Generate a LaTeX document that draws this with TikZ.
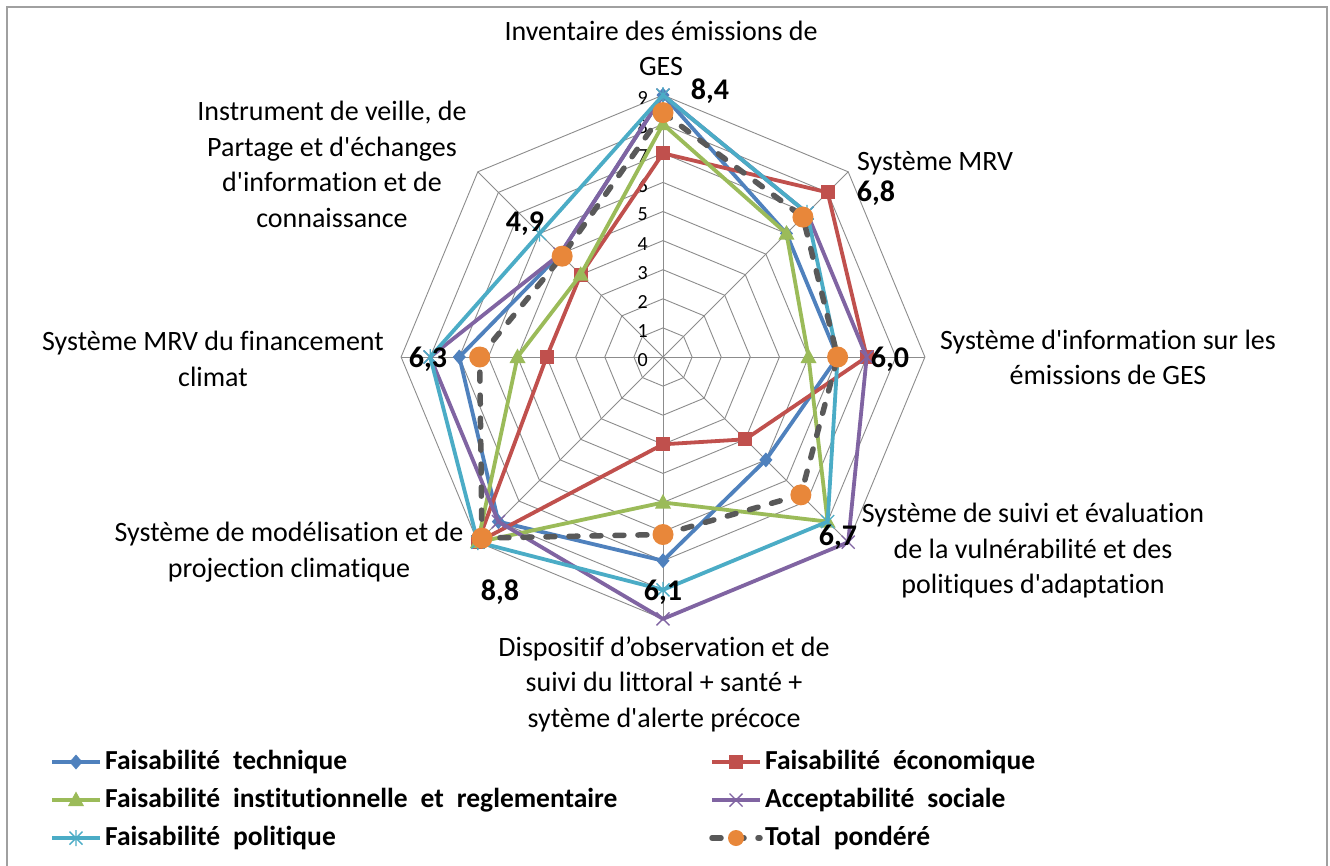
\documentclass[tikz,border=0pt]{standalone}
\usepackage{fontspec}
\setmainfont{Carlito}[Ligatures={TeXOff,NoCommon}]
\usetikzlibrary{calc}

\definecolor{sTech}{HTML}{4F81BD}
\definecolor{sEco}{HTML}{C0504D}
\definecolor{sInst}{HTML}{9BBB59}
\definecolor{sSoc}{HTML}{8064A2}
\definecolor{sPol}{HTML}{4BACC6}
\definecolor{sTot}{HTML}{E8873A}
\definecolor{totline}{HTML}{595959}
\definecolor{gridc}{HTML}{8C8C8C}
\definecolor{framec}{HTML}{A0A0A0}

% radar geometry: 29.1 units per score step, 8 axes clockwise from the top
\newcommand\defseries[2]{%
  \foreach \v [count=\i from 0] in {#2}
    \coordinate (#1\i) at ({29.1*\v*cos(90-45*\i)},{-29.1*\v*sin(90-45*\i)});}
\newcommand\polyof[1]{(#10) -- (#11) -- (#12) -- (#13) -- (#14) -- (#15) -- (#16) -- (#17) -- cycle}
% wider word spacing for the legend entries
\newcommand\legsp{\spaceskip=13pt\relax}

\tikzset{
  gridline/.style={gridc, line width=0.9pt},
  serie/.style={line width=3.8pt, line join=round},
  totstyle/.style={totline, line width=5.5pt, dash pattern=on 9pt off 14pt, line cap=round},
  catlabel/.style={font=\fontsize{28}{35.5}\selectfont, align=center, inner sep=0pt},
  vallabel/.style={font=\bfseries\fontsize{30}{36}\selectfont, inner sep=0pt},
  ringlabel/.style={font=\fontsize{20}{22}\selectfont, inner sep=0pt, anchor=east},
  legtext/.style={font=\bfseries\fontsize{27.5}{30}\selectfont, inner sep=0pt, anchor=west},
  mkdiamond/.pic={\fill[sTech] (0,-7.5) -- (6.5,0) -- (0,7.5) -- (-6.5,0) -- cycle;},
  mksquare/.pic={\fill[sEco] (-7,-7) rectangle (7,7);},
  mktri/.pic={\fill[sInst] (0,-8.5) -- (8,6) -- (-8,6) -- cycle;},
  mkcross/.pic={\draw[sSoc, line width=1.4pt] (-6.5,-6.5) -- (6.5,6.5) (-6.5,6.5) -- (6.5,-6.5);},
  mkstar/.pic={\draw[sPol, line width=1.4pt] (-6.5,-6.5) -- (6.5,6.5) (-6.5,6.5) -- (6.5,-6.5) (0,-8) -- (0,8);},
  mkdot/.pic={\fill[sTot] (0,0) circle (10.5pt);},
  mkdotsmall/.pic={\fill[sTot] (0,0) circle (8pt);},
}

\begin{document}
\begin{tikzpicture}[x=1pt,y=-1pt]
\useasboundingbox (0,0) rectangle (1330,865);
\fill[white] (0,0) rectangle (1330,865);

% chart frame
\draw[framec, line width=1.6pt] (7,866) -- (7,7) -- (1327,7) -- (1327,866);

\begin{scope}[shift={(663,357)}]
  % octagonal grid rings and spokes
  \foreach \r in {1,...,9}{
    \draw[gridline] (0,{-29.1*\r})
      \foreach \k in {1,...,7}{ -- ({29.1*\r*cos(90-45*\k)},{-29.1*\r*sin(90-45*\k)}) } -- cycle;
  }
  \foreach \k in {0,...,7}
    \draw[gridline] (0,0) -- ({261.9*cos(90-45*\k)},{-261.9*sin(90-45*\k)});
  \foreach \r in {0,...,9}
    \node[ringlabel] (ring\r) at (-15,{-29.1*\r+3}) {\r};

  % scores on the eight axes
  \defseries{tech}{9,6,6,5,7,8,7,5}
  \defseries{eco}{7,8,7,4,3,9,4,4}
  \defseries{inst}{8,6,5,8,5,9,5,4}
  \defseries{soc}{9,7,7,9,9,8,8,5}
  \defseries{pol}{9,7,6,8,8,9,8,6}
  \defseries{tot}{8.4,6.8,6.0,6.7,6.1,8.8,6.3,4.9}
\end{scope}

% series, drawn in legend order
\draw[serie, sTech] \polyof{tech};
\foreach \i in {0,...,7} \pic at (tech\i) {mkdiamond};
\draw[serie, sEco] \polyof{eco};
\foreach \i in {0,...,7} \pic at (eco\i) {mksquare};
\draw[serie, sInst] \polyof{inst};
\foreach \i in {0,...,7} \pic at (inst\i) {mktri};
\draw[serie, sSoc] \polyof{soc};
\foreach \i in {0,...,7} \pic at (soc\i) {mkcross};
\draw[serie, sPol] \polyof{pol};
\foreach \i in {0,...,7} \pic at (pol\i) {mkstar};
\draw[totstyle] \polyof{tot};
\foreach \i in {0,...,7} \pic at (tot\i) {mkdot};

% weighted totals
\node[vallabel] (v0) at (710,91) {8,4};
\node[vallabel] (v1) at (876,193) {6,8};
\node[vallabel] (v2) at (890,359) {6,0};
\node[vallabel] (v3) at (838,537) {6,7};
\node[vallabel] (v4) at (663,592) {6,1};
\node[vallabel] (v5) at (500,592) {8,8};
\node[vallabel] (v6) at (428,359) {6,3};
\node[vallabel] (v7) at (525,224) {4,9};

% axis names
\node[catlabel] (c0) at (661,48.5) {Inventaire des émissions de\\GES};
\node[catlabel, anchor=west] (c1) at (857,163) {Système MRV};
\node[catlabel] (c2) at (1108,357.5) {Système d'information sur les\\émissions de GES};
\node[catlabel] (c3) at (1033,551) {Système de suivi et évaluation\\de la vulnérabilité et des\\politiques d'adaptation};
\node[catlabel] (c4) at (664,684) {Dispositif d’observation et de\\suivi du littoral + santé +\\sytème d'alerte précoce};
\node[catlabel] (c5) at (289,552) {Système de modélisation et de\\projection climatique};
\node[catlabel] (c6) at (213,359) {Système MRV du financement\\climat};
\node[catlabel] (c7) at (332,164.5) {Instrument de veille, de\\Partage et d'échanges\\d'information et de\\connaissance};

% legend
\coordinate (la1) at (52,762);  \coordinate (lb1) at (100,762);
\coordinate (la2) at (52,800);  \coordinate (lb2) at (100,800);
\coordinate (la3) at (52,838);  \coordinate (lb3) at (100,838);
\coordinate (ra1) at (712,762); \coordinate (rb1) at (760,762);
\coordinate (ra2) at (712,800); \coordinate (rb2) at (760,800);
\coordinate (ra3) at (712,838); \coordinate (rb3) at (760,838);

\draw[serie, sTech] (la1) -- (lb1); \pic at ($(la1)!0.5!(lb1)$) {mkdiamond};
\node[legtext] (lg1) at (105,762) {\legsp Faisabilité technique};
\draw[serie, sInst] (la2) -- (lb2); \pic at ($(la2)!0.5!(lb2)$) {mktri};
\node[legtext] (lg2) at (105,800) {\legsp Faisabilité institutionnelle et reglementaire};
\draw[serie, sPol] (la3) -- (lb3); \pic at ($(la3)!0.5!(lb3)$) {mkstar};
\node[legtext] (lg3) at (105,838) {\legsp Faisabilité politique};

\draw[serie, sEco] (ra1) -- (rb1); \pic at ($(ra1)!0.5!(rb1)$) {mksquare};
\node[legtext] (lg4) at (765,762) {\legsp Faisabilité économique};
\draw[serie, sSoc] (ra2) -- (rb2); \pic at ($(ra2)!0.5!(rb2)$) {mkcross};
\node[legtext] (lg5) at (765,800) {\legsp Acceptabilité sociale};
\draw[totstyle] (ra3) -- (rb3); \pic at ($(ra3)!0.5!(rb3)$) {mkdotsmall};
\node[legtext] (lg6) at (765,838) {\legsp Total pondéré};
\end{tikzpicture}
\end{document}
